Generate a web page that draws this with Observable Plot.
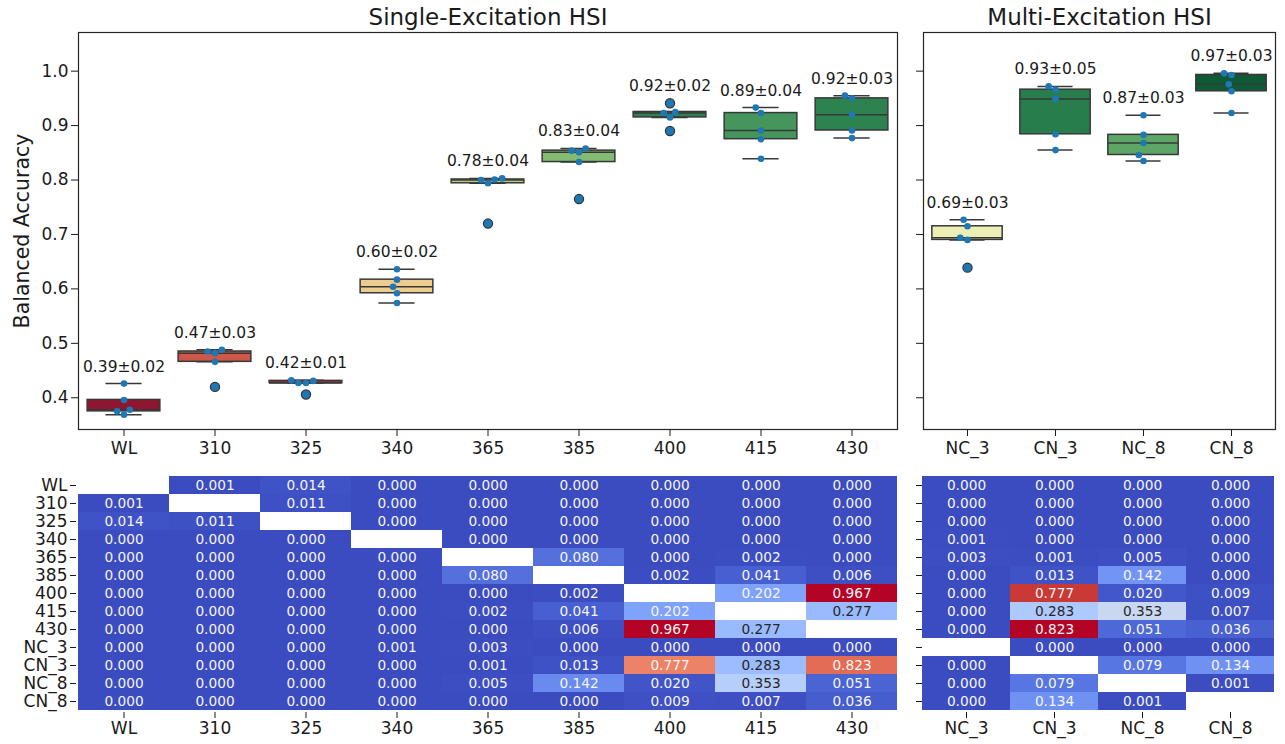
<!DOCTYPE html>
<html><head><meta charset="utf-8">
<script src="https://cdn.jsdelivr.net/npm/d3@7"></script>
<script src="https://cdn.jsdelivr.net/npm/@observablehq/plot@0.6"></script>
<style>
body{margin:0;background:#fff;font-family:"DejaVu Sans",sans-serif;}
#root{position:relative;width:1285px;height:744px;overflow:hidden;background:#fff;}
.panel{position:absolute;}
</style></head><body><div id="root"></div>
<script>
// ---------- data ----------
const singleLabels = ["WL","310","325","340","365","385","400","415","430"];
const multiLabels = ["NC_3","CN_3","NC_8","CN_8"];
const singleScores = [
  [0.426,0.396,0.375,0.378,0.369],
  [0.485,0.482,0.488,0.466,0.420],
  [0.432,0.427,0.427,0.431,0.406],
  [0.636,0.617,0.604,0.592,0.574],
  [0.800,0.794,0.801,0.803,0.720],
  [0.854,0.851,0.858,0.833,0.765],
  [0.923,0.915,0.925,0.941,0.890],
  [0.933,0.923,0.891,0.875,0.839],
  [0.955,0.950,0.920,0.891,0.877]
];
const multiScores = [
  [0.727,0.715,0.694,0.690,0.639],
  [0.972,0.966,0.949,0.884,0.855],
  [0.919,0.883,0.868,0.846,0.835],
  [0.996,0.993,0.976,0.963,0.923]
];
const yTicks = [0.4,0.5,0.6,0.7,0.8,0.9,1.0];
const singleTitle = "Single-Excitation HSI";
const multiTitle = "Multi-Excitation HSI";
const yLabel = "Balanced Accuracy";
const rowLabels = ["WL","310","325","340","365","385","400","415","430","NC_3","CN_3","NC_8","CN_8"];
const pSingle = [
  [null,0.001,0.014,0,0,0,0,0,0],
  [0.001,null,0.011,0,0,0,0,0,0],
  [0.014,0.011,null,0,0,0,0,0,0],
  [0,0,0,null,0,0,0,0,0],
  [0,0,0,0,null,0.080,0,0.002,0],
  [0,0,0,0,0.080,null,0.002,0.041,0.006],
  [0,0,0,0,0,0.002,null,0.202,0.967],
  [0,0,0,0,0.002,0.041,0.202,null,0.277],
  [0,0,0,0,0,0.006,0.967,0.277,null],
  [0,0,0,0.001,0.003,0,0,0,0],
  [0,0,0,0,0.001,0.013,0.777,0.283,0.823],
  [0,0,0,0,0.005,0.142,0.020,0.353,0.051],
  [0,0,0,0,0,0,0.009,0.007,0.036]
];
const pMulti = [
  [0,0,0,0],
  [0,0,0,0],
  [0,0,0,0],
  [0.001,0,0,0],
  [0.003,0.001,0.005,0],
  [0,0.013,0.142,0],
  [0,0.777,0.020,0.009],
  [0,0.283,0.353,0.007],
  [0,0.823,0.051,0.036],
  [null,0,0,0],
  [0,null,0.079,0.134],
  [0,0.079,null,0.001],
  [0,0.134,0.001,null]
];
// coolwarm palette stops (Moreland)
const coolwarm = ["#3b4cc0","#445acc","#4d68d7","#5775e1","#6282ea","#6c8ef1","#779af7","#82a5fb","#8db0fe","#98b9ff","#a3c2ff","#aec9fd","#b8d0f9","#c2d5f4","#ccd9ee","#d5dbe6","#dddddd","#e5d8d1","#ecd3c5","#f1ccb8","#f5c4ac","#f7bba0","#f7b194","#f7a689","#f49a7b","#f18d6f","#ec7f63","#e57058","#de604d","#d55042","#cb3e38","#c0282f","#b40426"];

// ---------- helpers ----------
const FONT = "DejaVu Sans";
const INK = "#1a1a1a";
const LINE = "#383838";
const BLUE = "#1f77b4";

function boxStats(labels, scores) {
  return labels.map((label, i) => {
    const v = scores[i].slice().sort(d3.ascending);
    const q1 = d3.quantile(v, 0.25), med = d3.quantile(v, 0.5), q3 = d3.quantile(v, 0.75);
    const iqr = q3 - q1;
    const lo = d3.min(v.filter(d => d >= q1 - 1.5 * iqr));
    const hi = d3.max(v.filter(d => d <= q3 + 1.5 * iqr));
    const mean = d3.mean(v), sd = d3.deviation(v);
    return {label, q1, med, q3, lo, hi, max: d3.max(v), mean, text: `${mean.toFixed(2)}±${sd.toFixed(2)}`};
  });
}
const sStats = boxStats(singleLabels, singleScores);
const mStats = boxStats(multiLabels, multiScores);
const allMeans = [...sStats, ...mStats].map(d => d.mean);
const rdylgn = Plot.scale({color: {type: "linear", scheme: "RdYlGn", domain: [d3.min(allMeans), d3.max(allMeans)]}});
for (const s of [...sStats, ...mStats]) {
  const c = d3.hsl(rdylgn.apply(s.mean));
  c.s *= 0.75;
  s.color = c.formatHex();
}

function boxPanel({labels, scores, stats, width, marginLeft, marginRight, showLabels, title}) {
  const byLabel = new Map(stats.map(s => [s.label, s]));
  const points = labels.flatMap((label, i) => scores[i].slice().sort(d3.ascending).map(v => ({label, v})));
  const outliers = points.filter(p => { const s = byLabel.get(p.label); return p.v < s.lo || p.v > s.hi; });
  const bw = (width - marginLeft - marginRight) / labels.length;
  const marks = [
    Plot.frame({facet: "super", stroke: "#262626", strokeWidth: 1.2}),
    Plot.text([title], {facet: "super", frameAnchor: "top", dy: -8, lineAnchor: "bottom", fontSize: 23, fill: INK}),
    Plot.axisY({ticks: yTicks, tickFormat: showLabels ? d3.format(".1f") : () => "", tickSize: 7, tickPadding: 3, fontSize: 17, label: null}),
    Plot.axisFx({anchor: "bottom", tickSize: 7, tickPadding: 5, fontSize: 17, label: null}),
    Plot.ruleX(stats, {fx: "label", y1: "q3", y2: "hi", stroke: LINE, strokeWidth: 1.5}),
    Plot.ruleX(stats, {fx: "label", y1: "lo", y2: "q1", stroke: LINE, strokeWidth: 1.5}),
    Plot.tickY(stats, {fx: "label", y: "hi", stroke: LINE, strokeWidth: 1.5, insetLeft: bw * 0.3, insetRight: bw * 0.3}),
    Plot.tickY(stats, {fx: "label", y: "lo", stroke: LINE, strokeWidth: 1.5, insetLeft: bw * 0.3, insetRight: bw * 0.3}),
    Plot.barY(stats, {fx: "label", y1: "q1", y2: "q3", fill: "color", stroke: LINE, strokeWidth: 1.5, insetLeft: bw * 0.1, insetRight: bw * 0.1}),
    Plot.tickY(stats, {fx: "label", y: "med", stroke: LINE, strokeWidth: 1.5, insetLeft: bw * 0.1, insetRight: bw * 0.1}),
    Plot.dot(outliers, {fx: "label", y: "v", r: 4.6, fill: BLUE, stroke: "#333", strokeWidth: 1.2}),
    Plot.dot(points, Plot.dodgeX("middle", {fx: "label", y: "v", r: 3.3, fill: BLUE, padding: 0.4})),
    Plot.text(stats, {fx: "label", y: "max", text: "text", dy: -12, lineAnchor: "bottom", fontSize: 15.5, fill: INK})
  ];
  if (showLabels) marks.push(Plot.text([yLabel], {facet: "super", frameAnchor: "left", textAnchor: "middle", lineAnchor: "middle", dx: -56, rotate: -90, fontSize: 20.5, fill: INK}));
  return Plot.plot({
    width, height: 460, marginLeft, marginRight, marginTop: 32, marginBottom: 31,
    style: {fontFamily: FONT, fontSize: "17px", color: INK, background: "transparent", overflow: "visible"},
    fx: {domain: labels, padding: 0},
    y: {domain: [0.3417, 1.071]},
    color: {type: "identity"},
    marks
  });
}

function relLum(c) {
  const f = x => { x /= 255; return x <= 0.03928 ? x / 12.92 : Math.pow((x + 0.055) / 1.055, 2.4); };
  return 0.2126 * f(c.r) + 0.7152 * f(c.g) + 0.0722 * f(c.b);
}

function heatPanel({cols, matrix, width, marginLeft, marginRight, showRowLabels}) {
  const cells = rowLabels.flatMap((row, i) => cols.map((col, j) => ({row, col, p: matrix[i][j]}))).filter(d => d.p != null);
  const vmin = d3.min(cells, d => d.p), vmax = d3.max(cells, d => d.p);
  const colorOpts = {type: "linear", domain: coolwarm.map((_, k) => vmin + (vmax - vmin) * k / (coolwarm.length - 1)), range: coolwarm, interpolate: "rgb"};
  const sc = Plot.scale({color: colorOpts});
  const dark = d => relLum(d3.rgb(sc.apply(d.p))) > 0.408;
  const fmt = d => d.p.toFixed(3);
  return Plot.plot({
    width, height: 284, marginLeft, marginRight, marginTop: 13, marginBottom: 32,
    style: {fontFamily: FONT, fontSize: "17px", color: INK, background: "transparent", overflow: "visible"},
    x: {domain: cols, padding: 0},
    y: {domain: rowLabels, padding: 0},
    color: colorOpts,
    marks: [
      Plot.cell(cells, {x: "col", y: "row", fill: "p", shapeRendering: "crispEdges"}),
      Plot.text(cells.filter(d => !dark(d)), {x: "col", y: "row", text: fmt, fill: "#f5f5f5", fontSize: 13.7}),
      Plot.text(cells.filter(dark), {x: "col", y: "row", text: fmt, fill: "#262626", fontSize: 13.7}),
      Plot.axisX({anchor: "bottom", tickSize: 6, tickPadding: 3, fontSize: 17, label: null}),
      Plot.axisY({anchor: "left", tickSize: 6, tickPadding: 3, fontSize: 17, label: null, tickFormat: showRowLabels ? (d => d) : () => ""})
    ]
  });
}

// ---------- layout ----------
const root = document.getElementById("root");
function place(node, left, top) {
  const d = document.createElement("div");
  d.className = "panel";
  d.style.left = left + "px";
  d.style.top = top + "px";
  d.appendChild(node);
  root.appendChild(d);
}
place(boxPanel({labels: singleLabels, scores: singleScores, stats: sStats, width: 910, marginLeft: 76, marginRight: 12, showLabels: true, title: singleTitle}), 0, 0);
place(boxPanel({labels: multiLabels, scores: multiScores, stats: mStats, width: 375, marginLeft: 12, marginRight: 10, showLabels: false, title: multiTitle}), 910, 0);
place(heatPanel({cols: singleLabels, matrix: pSingle, width: 910, marginLeft: 76, marginRight: 12, showRowLabels: true}), 0, 460);
place(heatPanel({cols: multiLabels, matrix: pMulti, width: 375, marginLeft: 12, marginRight: 11, showRowLabels: false}), 910, 460);
</script></body></html>
